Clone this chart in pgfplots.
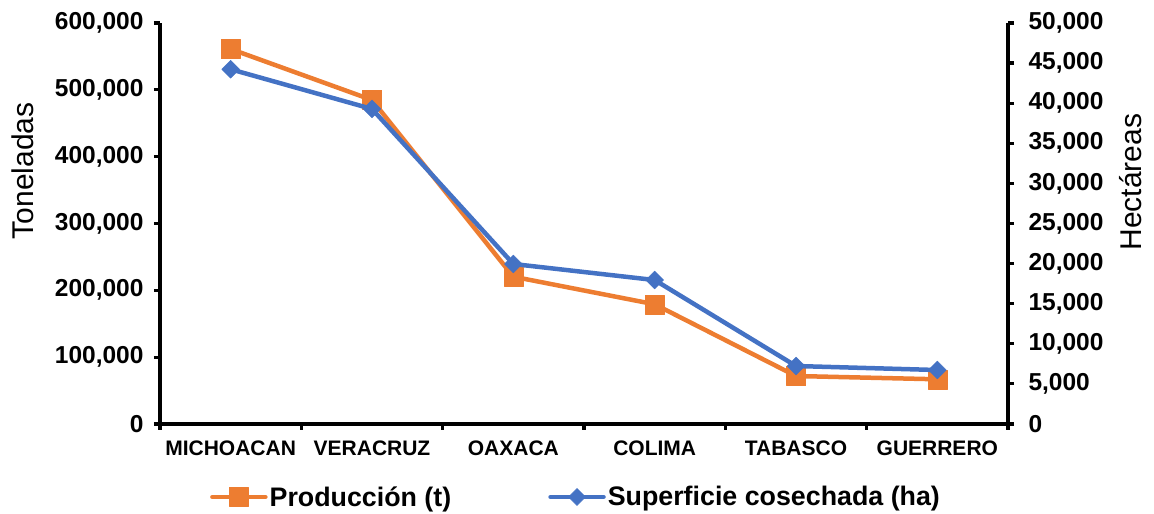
\documentclass[border=0pt]{standalone}
\usepackage{fontspec}
\setmainfont{Liberation Sans}
\usepackage{pgfplots}
\pgfplotsset{compat=1.18}

\definecolor{prodorange}{HTML}{ED7D31}
\definecolor{supblue}{HTML}{4472C4}

% Producción (t) por estado
\pgfplotstableread{
x  prod
0  561100
1  484800
2  220400
3  179100
4  71800
5  66900
}\prodtable

% Superficie cosechada (ha) por estado
\pgfplotstableread{
x  sup
0  44230
1  39280
2  19950
3  17950
4  7230
5  6730
}\suptable

\pgfplotsset{
  common/.style={
    scale only axis,
    width=848pt, height=401pt,
    xmin=-0.5, xmax=5.5,
    ymin=0,
    tick align=outside,
    axis line style={line width=3.5pt, black},
    every tick/.style={line width=3.2pt, black},
    major tick length=6pt,
    minor tick length=6pt,
    scaled y ticks=false,
    yticklabel style={font=\fontsize{24.5}{26}\selectfont\bfseries,
      /pgf/number format/fixed, /pgf/number format/1000 sep={,},
      /pgf/number format/assume math mode=true},
    ylabel style={font=\fontsize{30}{32}\selectfont, anchor=center},
  },
}

\begin{document}
\begin{tikzpicture}
\path[use as bounding box] (0,0) rectangle (1154pt,514pt);

\begin{axis}[common,
  at={(160pt,90pt)}, anchor=south west,
  ymax=600000,
  ytick={0,100000,...,600000},
  yticklabel style={xshift=-7pt},
  axis x line*=bottom, axis y line*=left,
  xtick={0,...,5},
  xticklabels={MICHOACAN,VERACRUZ,OAXACA,COLIMA,TABASCO,GUERRERO},
  major x tick style={draw=none},
  minor xtick={-0.5,0.5,...,5.5},
  xticklabel style={font=\fontsize{21}{23}\selectfont\bfseries, yshift=-7pt},
  ylabel={Toneladas},
  ylabel style={at={(axis description cs:-0.1616,0.631)}},
  legend columns=2,
  legend style={at={(axis description cs:0.4906,-0.182)}, anchor=center,
    draw=none, fill=none, font=\fontsize{26.8}{28}\selectfont\bfseries,
    /tikz/every even column/.append style={column sep=95pt}},
  legend image code/.code={
    \draw[mark repeat=2, mark phase=2, #1]
      plot coordinates {(0pt,0pt) (26.5pt,0pt) (53pt,0pt)};},
]
\addplot[color=prodorange, line width=4.5pt, line join=round, line cap=round,
  mark=square*, mark size=9.5pt, mark options={line width=0.5pt, fill=prodorange}]
  table[x=x, y=prod] {\prodtable};
\addlegendentry{Producción (t)}
\addlegendimage{color=supblue, line width=4.5pt, line cap=round,
  mark=square*, mark size=6pt, mark options={rotate=45, line width=0.5pt, fill=supblue}}
\addlegendentry{Superficie cosechada (ha)}
\end{axis}

\begin{axis}[common,
  at={(160pt,90pt)}, anchor=south west,
  ymax=50000,
  ytick={0,5000,...,50000},
  yticklabel style={xshift=11pt},
  axis y line*=right, axis x line=none,
  ylabel={Hectáreas},
  ylabel style={at={(axis description cs:1.145,0.603)}},
]
\addplot[color=supblue, line width=4.5pt, line join=round, line cap=round,
  mark=square*, mark size=6.3pt, mark options={rotate=45, line width=0.5pt, fill=supblue}]
  table[x=x, y=sup] {\suptable};
\end{axis}
\end{tikzpicture}
\end{document}
